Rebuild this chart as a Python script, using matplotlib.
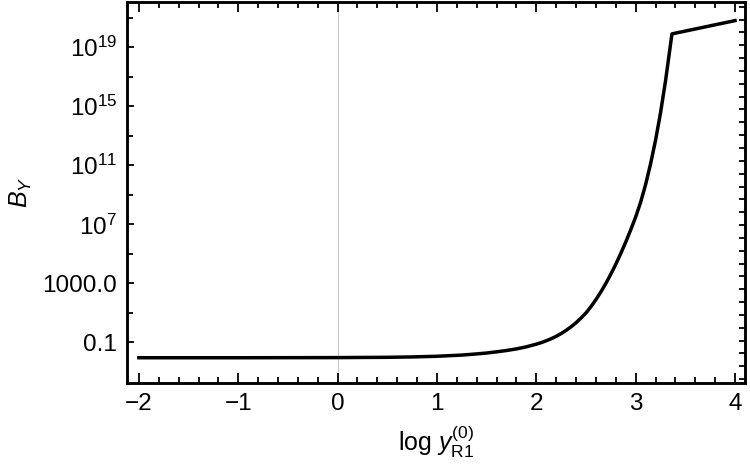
import numpy as np
import matplotlib
matplotlib.use("Agg")
from matplotlib import pyplot as plt
from matplotlib.ticker import FixedLocator, MultipleLocator, NullFormatter

plt.rcParams['font.family'] = ['Liberation Sans', 'DejaVu Sans']
plt.rcParams['mathtext.fontset'] = 'custom'
plt.rcParams['mathtext.rm'] = 'Liberation Sans'
plt.rcParams['mathtext.it'] = 'Liberation Sans:italic'

# curve: x = log y_R1^(0), log10 of B_Y
log_y = [-2.0, -1.5, -1.0, -0.5, 0.0, 0.5, 0.75, 1.0, 1.25, 1.4, 1.5, 1.6, 1.7,
         1.8, 1.9, 2.0, 2.05, 2.1, 2.15, 2.2, 2.25, 2.3, 2.35, 2.4, 2.45, 2.5,
         2.55, 2.6, 2.65, 2.7, 2.75, 2.8, 2.85, 2.9, 2.95, 3.0, 3.05, 3.1, 3.15,
         3.2, 3.25, 3.3, 3.365, 4.0]
log_b = [-2.04, -2.04, -2.04, -2.035, -2.03, -2.01, -1.985, -1.94, -1.86, -1.78,
         -1.72, -1.64, -1.55, -1.44, -1.3, -1.12, -1.015, -0.89, -0.75, -0.59,
         -0.4, -0.185, 0.06, 0.335, 0.65, 1.0, 1.425, 1.9, 2.425, 3.0, 3.625,
         4.3, 5.025, 5.8, 6.625, 7.5, 8.5, 9.7, 11.1, 12.7, 14.55, 16.7, 19.9,
         20.8]

y_ticks = [1e-1, 1e3, 1e7, 1e11, 1e15, 1e19]
y_tick_labels = ['0.1', '1000.0', '$10^{7}$', '$10^{11}$', '$10^{15}$', '$10^{19}$']
x_ticks = [-2, -1, 0, 1, 2, 3, 4]
x_tick_labels = ['\u22122', '\u22121', '0', '1', '2', '3', '4']

fig = plt.figure(figsize=(7.5, 4.67), dpi=100)
ax = fig.add_axes([0.1693, 0.1799, 0.824, 0.8158])

ax.axvline(0, color='#c8c8c8', lw=0.8, zorder=0)
ax.plot(log_y, 10 ** np.array(log_b), color='black', lw=2.5,
        solid_joinstyle='round')

ax.set_yscale('log')
ax.set_xlim(-2.12, 4.10)
ax.set_ylim(10 ** -3.75, 10 ** 22.06)

ax.yaxis.set_major_locator(FixedLocator(y_ticks))
ax.set_yticklabels(y_tick_labels)
ax.yaxis.set_minor_locator(FixedLocator([1e1, 1e5, 1e9, 1e13, 1e17, 1e21]))
ax.yaxis.set_minor_formatter(NullFormatter())
ax.set_xticks(x_ticks)
ax.set_xticklabels(x_tick_labels)
ax.xaxis.set_minor_locator(MultipleLocator(0.2))

ax.tick_params(which='both', direction='in', labelsize=17.5, width=1.3,
               top=True, right=False, left=True, bottom=True, pad=7)
ax.tick_params(axis='x', which='major', length=7)
ax.tick_params(axis='x', which='minor', length=4)
ax.tick_params(axis='y', which='major', length=5)
ax.tick_params(axis='y', which='minor', length=4)

# right frame ticks
ax2 = ax.twinx()
ax2.set_yscale('log')
ax2.set_ylim(ax.get_ylim())
ax2.yaxis.set_major_locator(FixedLocator(10 ** np.arange(21.74, -3.75, -0.87)))
ax2.yaxis.set_minor_locator(FixedLocator([]))
ax2.yaxis.set_major_formatter(NullFormatter())
ax2.tick_params(which='both', direction='in', length=4, width=1.3, labelright=False)

for a in (ax, ax2):
    for s in a.spines.values():
        s.set_linewidth(1.8)

ax.set_xlabel(r'log $y^{(0)}_{\mathrm{R1}}$', fontsize=18, labelpad=6)
ax.set_ylabel(r'$B_Y$', fontsize=18, labelpad=6)

fig.savefig('out.png', dpi=100)
